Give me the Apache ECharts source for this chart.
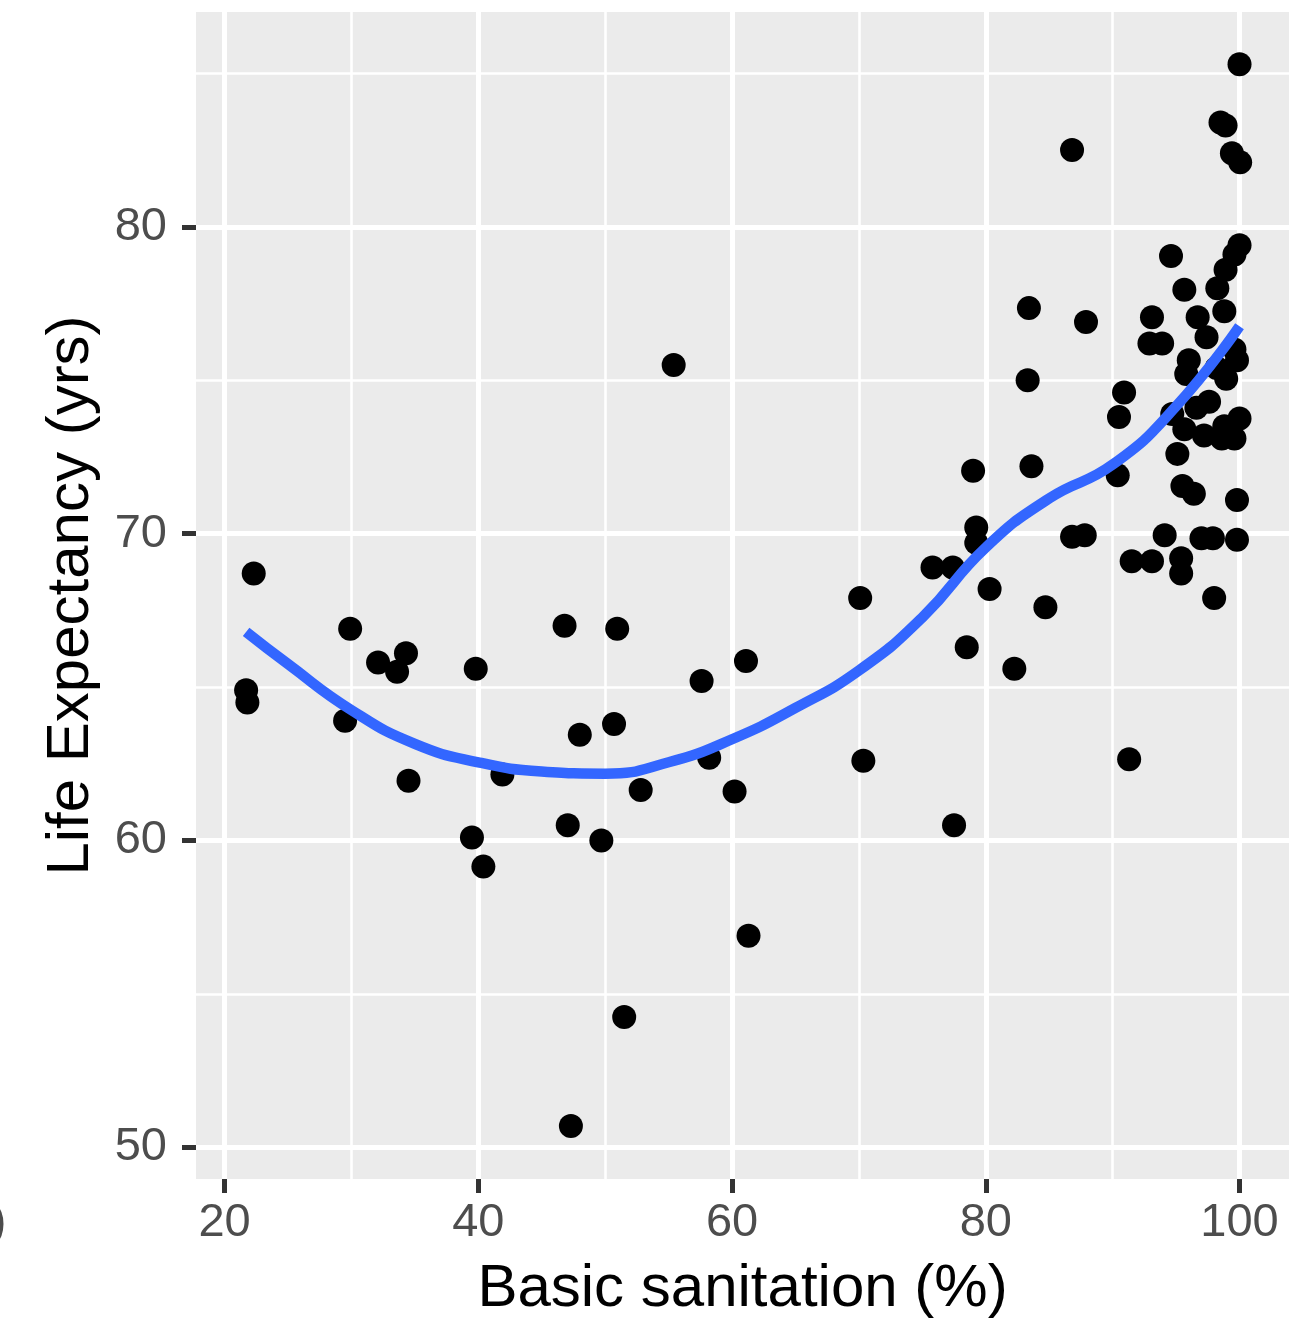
<!DOCTYPE html>
<html>
<head>
<meta charset="utf-8">
<script src="https://cdn.jsdelivr.net/npm/echarts@6/dist/echarts.min.js"></script>
<style>
html,body{margin:0;padding:0;background:#fff;}
#chart{width:1313px;height:1327px;}
</style>
</head>
<body>
<div id="chart"></div>
<script>
// ---- data ----
var xTicks = [20, 40, 60, 80, 100];
var xMinor = [30, 50, 70, 90];
var yTicks = [50, 60, 70, 80];
var yMinor = [55, 65, 75, 85];

var sanitation = [
  22.3, 21.7, 21.8, 29.9, 29.5, 32.1, 33.6, 34.3, 34.5, 39.8,
  39.5, 40.4, 41.9, 46.8, 47.05, 48.0, 47.3, 49.7, 50.7, 50.95,
  51.5, 52.8, 55.4, 57.6, 58.2, 60.2, 61.1, 61.3, 70.1, 70.35,
  77.5, 91.3, 86.8,
  83.4, 87.9, 83.3, 83.6, 79.0, 79.25, 79.25, 75.8, 77.4, 80.3,
  86.8, 87.8, 84.7, 78.5, 82.25,
  100.0, 98.5, 98.9, 99.4, 100.05, 94.6, 100.0, 99.6, 98.9, 98.25,
  98.8, 95.65, 93.1, 96.7, 92.9, 93.9, 97.4, 96.0, 99.6, 99.8,
  95.8, 98.95, 98.2, 90.9, 90.5, 97.6, 96.6, 94.7, 100.0, 98.8,
  99.6, 97.2, 95.65, 98.6, 95.1, 90.4, 95.5, 96.4, 99.8, 94.1,
  97.0, 97.9, 99.8, 91.5, 93.1, 95.4, 95.4, 98.0
];
var lifeExp = [
  68.7, 64.9, 64.5, 66.9, 63.9, 65.8, 65.5, 66.1, 61.95, 65.6,
  60.1, 59.15, 62.15, 67.0, 60.5, 63.45, 50.7, 60.0, 63.8, 66.9,
  54.25, 61.65, 75.5, 65.2, 62.7, 61.6, 65.85, 56.9, 67.9, 62.6,
  60.5, 62.65, 82.5,
  77.35, 76.9, 75.0, 72.2, 72.05, 70.2, 69.7, 68.9, 68.9, 68.2,
  69.9, 69.95, 67.6, 66.3, 65.6,
  85.3, 83.4, 83.3, 82.4, 82.1, 79.05, 79.4, 79.1, 78.6, 78.0,
  77.25, 77.95, 77.05, 77.05, 76.2, 76.2, 76.4, 75.65, 76.0, 75.65,
  75.2, 75.05, 75.4, 74.6, 73.8, 74.3, 74.1, 73.9, 73.75, 73.5,
  73.1, 73.2, 73.4, 73.1, 72.6, 71.9, 71.55, 71.3, 71.1, 69.95,
  69.85, 69.85, 69.8, 69.1, 69.1, 69.2, 68.7, 67.9
];

var smoothX = [21.7, 25, 30, 35, 40, 45, 50, 55, 60, 65, 70, 75, 80, 85, 90, 95, 100];
var smoothY = [66.8, 65.75, 64.25, 63.15, 62.55, 62.25, 62.18, 62.55, 63.3, 64.32,
  65.54, 67.27, 69.55, 71.15, 72.25, 74.15, 76.76];

var xTitle = 'Basic sanitation (%)';
var yTitle = 'Life Expectancy (yrs)';

// ---- build ----
var FONT = 'Liberation Sans, Arial, Helvetica, sans-serif';
var points = sanitation.map(function (v, i) { return [v, lifeExp[i]]; });
var curve = smoothX.map(function (v, i) { return [v, smoothY[i]]; });

function gridLines() {
  var d = [];
  xMinor.forEach(function (v) { d.push({ xAxis: v, lineStyle: { color: '#fff', width: 2.6, type: 'solid' } }); });
  yMinor.forEach(function (v) { d.push({ yAxis: v, lineStyle: { color: '#fff', width: 2.6, type: 'solid' } }); });
  xTicks.forEach(function (v) { d.push({ xAxis: v, lineStyle: { color: '#fff', width: 5, type: 'solid' } }); });
  yTicks.forEach(function (v) { d.push({ yAxis: v, lineStyle: { color: '#fff', width: 5, type: 'solid' } }); });
  return d;
}

var chart = echarts.init(document.getElementById('chart'), null, { renderer: 'canvas' });
chart.setOption({
  animation: false,
  backgroundColor: '#ffffff',
  grid: {
    left: 196, top: 12, width: 1093, height: 1167,
    show: true, backgroundColor: '#EBEBEB', borderWidth: 0
  },
  xAxis: {
    type: 'value', min: 17.75, max: 103.9,
    axisLine: { show: false },
    splitLine: { show: false },
    axisTick: { show: true, customValues: xTicks, length: 14, lineStyle: { color: '#333333', width: 5 } },
    axisLabel: { customValues: xTicks, fontSize: 47, color: '#4D4D4D', margin: 21, fontFamily: FONT },
    name: xTitle, nameLocation: 'middle', nameGap: 80,
    nameTextStyle: { fontSize: 60, color: '#000', fontFamily: FONT }
  },
  yAxis: {
    type: 'value', min: 48.97, max: 87.0,
    axisLine: { show: false },
    splitLine: { show: false },
    axisTick: { show: true, customValues: yTicks, length: 14, lineStyle: { color: '#333333', width: 5 } },
    axisLabel: { customValues: yTicks, fontSize: 47, color: '#4D4D4D', margin: 29, fontFamily: FONT },
    name: yTitle, nameLocation: 'middle', nameGap: 95,
    nameTextStyle: { fontSize: 60, color: '#000', fontFamily: FONT }
  },
  graphic: [{
    type: 'text', x: -9, y: 1223, silent: true,
    style: { text: ')', font: '46px ' + FONT, fill: '#4D4D4D', textVerticalAlign: 'middle' }
  }],
  series: [
    {
      type: 'scatter', data: [], z: 1, silent: true,
      markLine: { z: 1, silent: true, symbol: ['none', 'none'], label: { show: false }, animation: false, data: gridLines() }
    },
    {
      type: 'scatter', data: points, z: 3, symbol: 'circle', symbolSize: 24,
      itemStyle: { color: '#000', opacity: 1 }, silent: true
    },
    {
      type: 'line', data: curve, z: 4, smooth: 0.5, showSymbol: false, symbol: 'none',
      lineStyle: { color: '#3366FF', width: 10.5, cap: 'butt' }, silent: true
    }
  ]
});
</script>
</body>
</html>
